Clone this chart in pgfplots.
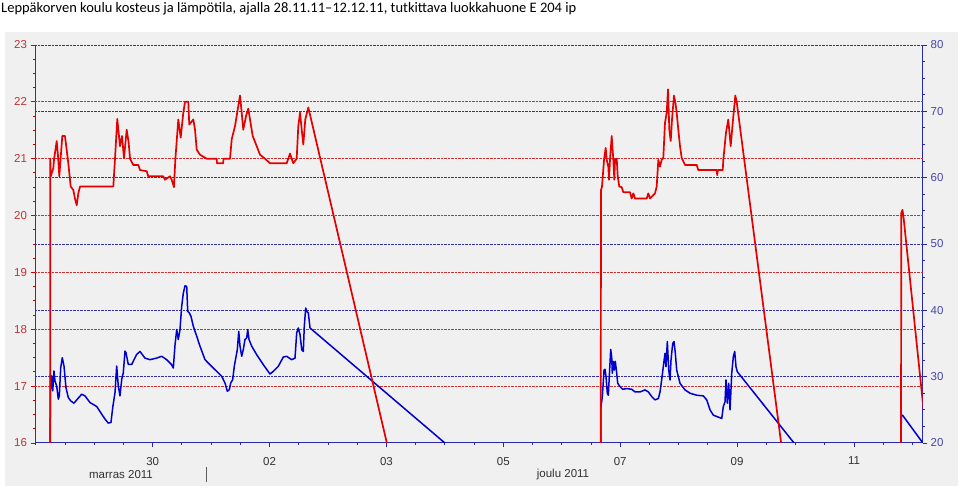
\documentclass[border=0pt]{standalone}
\usepackage{fontspec}
\setmainfont{Liberation Sans}
\newfontfamily\titlefont{Carlito}
\usepackage{pgfplots}
\usepackage{pgfplotstable}
\pgfplotsset{compat=1.18}
\definecolor{bggray}{RGB}{240,240,240}
\definecolor{tred}{RGB}{228,0,0}
\definecolor{hblue}{RGB}{0,0,205}
\definecolor{gridred}{RGB}{205,50,50}
\definecolor{gridblue}{RGB}{50,50,165}
\definecolor{axred}{RGB}{205,0,0}
\definecolor{axblue}{RGB}{40,40,170}
\definecolor{labred}{RGB}{195,50,50}
\definecolor{labblue}{RGB}{70,70,175}
\definecolor{labgray}{RGB}{50,50,50}

% temperature (left axis); x = days from 30.11. 00:00
\pgfplotstableread{
x T
-1.757 0
-1.752 21.00
-1.745 20.69
-1.701 20.83
-1.689 20.98
-1.643 21.31
-1.620 21.05
-1.598 20.69
-1.547 21.40
-1.501 21.40
-1.444 20.92
-1.403 20.51
-1.359 20.45
-1.330 20.30
-1.300 20.18
-1.273 20.39
-1.244 20.51
-0.674 20.51
-0.645 21.00
-0.606 21.70
-0.560 21.22
-0.525 21.40
-0.491 21.01
-0.445 21.51
-0.411 21.28
-0.388 21.00
-0.332 20.89
-0.246 20.89
-0.217 20.80
-0.103 20.78
-0.075 20.69
0.181 20.69
0.210 20.63
0.296 20.69
0.325 20.63
0.364 20.50
0.387 20.98
0.438 21.69
0.479 21.37
0.524 21.81
0.553 22.00
0.609 22.00
0.626 21.60
0.695 21.69
0.724 21.51
0.753 21.16
0.809 21.07
0.924 21.00
1.095 21.00
1.100 20.92
1.208 20.92
1.210 21.00
1.323 21.00
1.352 21.34
1.408 21.57
1.465 21.93
1.494 22.11
1.523 21.81
1.550 21.51
1.597 21.75
1.636 21.88
1.665 21.69
1.711 21.40
1.780 21.22
1.836 21.07
1.922 21.00
2.007 20.92
2.293 20.92
2.349 21.09
2.378 21.00
2.406 20.92
2.464 21.00
2.491 21.57
2.521 21.81
2.550 21.51
2.577 21.25
2.611 21.69
2.663 21.90
7.650 0
7.671 20.45
7.688 20.51
7.723 20.98
7.751 21.19
7.769 20.98
7.796 20.86
7.808 20.63
7.825 20.98
7.854 21.40
7.882 20.98
7.899 20.63
7.911 20.98
7.940 21.00
7.957 20.69
7.984 20.51
8.025 20.50
8.053 20.41
8.167 20.41
8.196 20.30
8.224 20.39
8.253 20.30
8.453 20.30
8.481 20.39
8.510 20.30
8.595 20.39
8.624 20.51
8.652 20.98
8.681 20.86
8.709 20.98
8.737 21.01
8.766 21.63
8.795 21.81
8.818 22.22
8.840 21.51
8.864 21.31
8.886 21.69
8.920 22.11
8.943 21.99
8.966 21.81
8.994 21.51
9.023 21.22
9.052 21.01
9.109 20.89
9.309 20.89
9.336 20.80
9.651 20.80
9.660 20.71
9.670 20.80
9.754 20.80
9.764 20.98
9.810 21.46
9.849 21.69
9.890 21.22
9.925 21.63
9.947 21.87
9.969 22.11
9.993 22.00
12.780 0
12.810 20.05
12.830 20.10
12.850 19.95
14.870 0
}\temptable

% relative humidity (right axis)
\pgfplotstableread{
x H
-1.757 0
-1.752 30.35
-1.745 28.1
-1.728 30.1
-1.711 27.85
-1.689 30.85
-1.672 29.35
-1.643 28.6
-1.615 26.6
-1.598 27.1
-1.574 31.35
-1.547 32.85
-1.518 31.6
-1.484 28.35
-1.444 26.85
-1.403 26.35
-1.347 26.0
-1.290 26.6
-1.215 27.35
-1.158 27.1
-1.073 26.1
-0.958 25.5
-0.873 24.35
-0.816 23.6
-0.760 23.0
-0.714 23.1
-0.684 25.35
-0.645 27.6
-0.616 31.6
-0.589 28.6
-0.560 27.1
-0.530 29.6
-0.503 30.6
-0.474 33.85
-0.457 33.6
-0.418 31.85
-0.359 31.85
-0.274 33.35
-0.217 33.8
-0.132 32.8
-0.046 32.56
0.068 32.8
0.154 33.07
0.240 32.56
0.325 31.8
0.353 31.3
0.382 34.8
0.411 37.1
0.438 35.6
0.467 37.1
0.496 40.6
0.524 42.6
0.553 43.7
0.582 43.6
0.599 39.85
0.626 39.6
0.655 39.1
0.695 37.6
0.753 36.1
0.809 34.6
0.895 32.56
0.980 31.8
1.066 31.05
1.181 30.05
1.237 29.05
1.277 27.8
1.311 28.04
1.335 29.05
1.369 29.55
1.396 31.56
1.425 32.96
1.448 34.07
1.472 36.83
1.494 34.6
1.523 33.07
1.550 34.07
1.579 35.6
1.608 35.83
1.626 37.1
1.648 35.6
1.694 34.6
1.780 33.3
1.893 31.8
2.007 30.4
2.064 30.8
2.149 31.56
2.235 32.96
2.293 33.07
2.378 32.56
2.435 32.8
2.464 36.6
2.491 37.34
2.521 36.33
2.550 34.07
2.577 33.8
2.594 37.6
2.618 40.35
2.635 39.85
2.663 39.6
2.692 37.34
7.660 0
7.671 25.5
7.694 27.0
7.723 31.0
7.740 31.1
7.757 30.0
7.779 27.5
7.796 27.2
7.813 30.0
7.837 34.1
7.854 33.0
7.865 30.5
7.882 32.3
7.899 31.0
7.916 32.3
7.940 30.5
7.957 29.0
7.996 28.5
8.042 28.1
8.111 28.2
8.196 28.1
8.253 27.7
8.338 27.7
8.424 28.0
8.481 27.7
8.539 27.0
8.595 26.5
8.652 26.7
8.681 27.7
8.709 29.5
8.737 31.5
8.766 33.5
8.783 31.5
8.806 35.3
8.830 31.0
8.852 29.5
8.869 32.5
8.898 35.0
8.920 35.3
8.943 33.5
8.966 31.0
9.023 29.0
9.109 28.0
9.194 27.5
9.309 27.2
9.422 27.1
9.480 26.5
9.536 25.0
9.593 24.2
9.678 23.9
9.737 23.7
9.764 25.5
9.793 26.2
9.810 29.5
9.832 26.0
9.856 29.0
9.879 25.0
9.908 30.5
9.935 33.0
9.959 33.8
9.981 31.5
10.003 30.75
12.780 0
12.810 24.1
12.830 24.2
14.840 0
}\humtable

\pgfplotsset{
  common/.style={
    at={(35bp,46bp)}, anchor=south west,
    scale only axis, width=887.7bp, height=398bp,
    xmin=-2.014, xmax=13.176,
    /pgf/number format/assume math mode=true,
    tick label style={font=\fontsize{11.5bp}{13bp}\selectfont},
    tick align=outside,
    major tick length=4.5bp, minor tick length=2.5bp,
  },
}

\begin{document}
\begin{tikzpicture}[x=1bp,y=1bp]
\useasboundingbox (0,0) rectangle (960,489);
\fill[white] (0,0) rectangle (960,489);
\fill[bggray] (5,2.5) rectangle (958,457.3);
\node[anchor=base west, inner sep=0pt, font=\titlefont\fontsize{14.5bp}{16bp}\selectfont]
  at (1,476.5) {Leppäkorven koulu kosteus ja lämpötila, ajalla 28.11.11–12.12.11, tutkittava luokkahuone E 204 ip};

% humidity axis: decorations, x axis and blue grid
\begin{axis}[common,
  ymin=20, ymax=80,
  axis x line*=bottom, axis y line*=right,
  x axis line style={axblue, line width=1bp},
  y axis line style={axblue, line width=1bp},
  xtick={0,2,4,6,8,10,12}, xticklabels={30,02,03,05,07,09,11},
  minor xtick={-2,-1.5,...,13},
  xtick style={axblue, line width=0.9bp},
  xticklabel style={text=labgray, yshift=-6bp},
  ytick={20,30,...,80}, minor ytick={20,22.5,...,80},
  ytick style={axblue, line width=0.9bp},
  yticklabel style={text=labblue},
  extra y ticks={30,40,50,60,70,80}, extra y tick labels={},
  extra y tick style={grid=major, major tick length=0pt},
  major grid style={gridblue, densely dotted, line width=0.8bp},
]
\end{axis}

% temperature axis: decorations and red grid
\begin{axis}[common,
  ymin=16, ymax=23,
  axis x line=none, axis y line*=left,
  y axis line style={axred, line width=1bp},
  ytick={16,...,23}, minor ytick={16,16.25,...,23},
  ytick style={axred, line width=0.9bp},
  yticklabel style={text=labred},
  extra y ticks={17,18,19,20,21,22}, extra y tick labels={},
  extra y tick style={grid=major, major tick length=0pt},
  major grid style={gridred, densely dotted, line width=0.8bp},
]
\end{axis}

% humidity data
\begin{axis}[common, ymin=20, ymax=80, hide axis]
\addplot[hblue, line width=1.5bp, line join=round] table[x=x, y=H] {\humtable};
\end{axis}

% temperature data
\begin{axis}[common, ymin=16, ymax=23, hide axis]
\addplot[tred, line width=1.7bp, line join=round] table[x=x, y=T] {\temptable};
\end{axis}

\node[font=\fontsize{11.5bp}{13bp}\selectfont, text=labgray] at (121,14) {marras 2011};
\node[font=\fontsize{11.5bp}{13bp}\selectfont, text=labgray] at (563,14) {joulu 2011};
\draw[labgray!80, line width=1.2bp] (206.7,22) -- (206.7,7);
\end{tikzpicture}
\end{document}
